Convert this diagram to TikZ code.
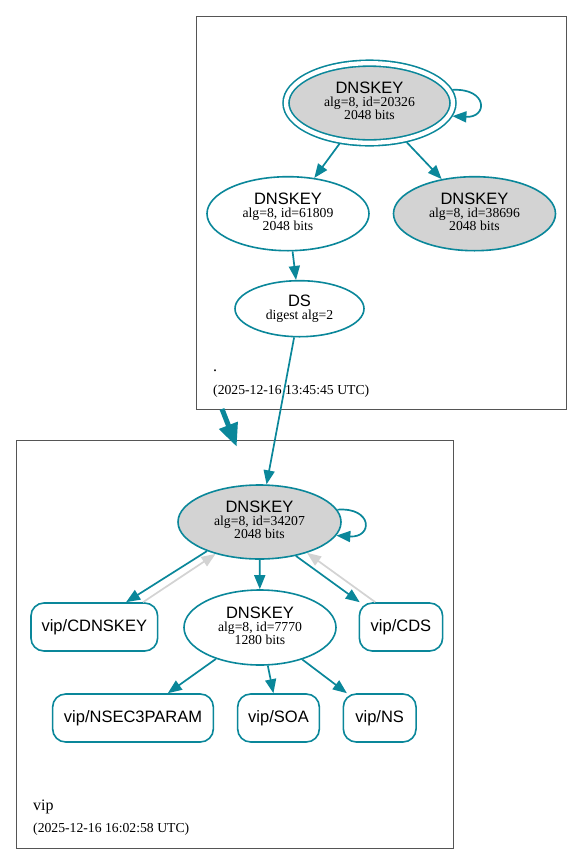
\documentclass[tikz,border=0pt]{standalone}
\usepackage{fontspec}
\setmainfont{Liberation Serif}
\setsansfont{Liberation Sans}
\usetikzlibrary{arrows.meta,shapes.geometric}
\definecolor{dnsteal}{HTML}{0A879A}
\definecolor{keygray}{HTML}{D3D3D3}
\definecolor{zoneline}{HTML}{555555}
\newcommand{\keyname}[1]{{\sffamily\fontsize{16.5}{13}\selectfont #1}}
\newcommand{\dpst}{\rule[-4pt]{0pt}{4pt}}
\begin{document}
\begin{tikzpicture}[x=1pt,y=-1pt,
  keynode/.style={ellipse, draw=dnsteal, line width=1.6pt, inner sep=0pt, align=center,
    font=\fontsize{13.7}{13}\selectfont},
  rrnode/.style={rectangle, rounded corners=13pt, draw=dnsteal, line width=1.6pt, inner sep=0pt,
    minimum height=48pt, font=\sffamily\fontsize{16.5}{18}\selectfont},
  zonebox/.style={draw=zoneline, line width=1pt},
  zonetext/.style={anchor=base west, inner sep=0pt, font=\fontsize{13.7}{14}\selectfont},
  edgeT/.style={draw=dnsteal, line width=1.7pt, -{Triangle[length=14pt,width=11pt]}},
  edgeG/.style={draw=keygray, line width=1.7pt, -{Triangle[length=14pt,width=11pt]}},
]
\useasboundingbox (0,0) rectangle (583,865);
\fill[white] (0,0) rectangle (583,865);

% zone boxes
\draw[zonebox] (196,16) rectangle (566,409);
\draw[zonebox] (16,440) rectangle (453,848);

% root zone
\node[keynode, fill=keygray, double=white, double distance=4.3pt, outer sep=3.5pt,
      minimum width=167pt, minimum height=79.6pt] (k1) at (369.5,103)
  {\keyname{DNSKEY}\\alg=8, id=20326\\2048 bits\dpst};
\node[keynode, minimum width=162pt, minimum height=74pt] (k2) at (288,213.7)
  {\keyname{DNSKEY}\\alg=8, id=61809\\2048 bits\dpst};
\node[keynode, fill=keygray, minimum width=162pt, minimum height=74pt] (k3) at (474.5,213.7)
  {\keyname{DNSKEY}\\alg=8, id=38696\\2048 bits\dpst};
\node[keynode, minimum width=129pt, minimum height=56pt] (ds) at (299.5,308.7)
  {\keyname{DS}\\digest alg=2};
\node[zonetext, font=\fontsize{16}{16}\selectfont] (rootname) at (213,371) {.};
\node[zonetext] (roottime) at (213,394) {(2025-12-16 13:45:45 UTC)};

% vip zone
\node[keynode, fill=keygray, minimum width=163pt, minimum height=74pt] (z1) at (259.5,522)
  {\keyname{DNSKEY}\\alg=8, id=34207\\2048 bits\dpst};
\node[keynode, minimum width=152pt, minimum height=75pt] (z2) at (260,627.5)
  {\keyname{DNSKEY}\\alg=8, id=7770\\1280 bits\dpst};
\node[rrnode, minimum width=126.7pt] (cdnskey) at (94.3,627) {vip/CDNSKEY};
\node[rrnode, minimum width=83.3pt] (cds) at (401,627) {vip/CDS};
\node[rrnode, minimum width=160.7pt] (nsec3) at (133,718) {vip/NSEC3PARAM};
\node[rrnode, minimum width=81.7pt] (soa) at (278.5,718) {vip/SOA};
\node[rrnode, minimum width=72.7pt] (ns) at (379.7,718) {vip/NS};
\node[zonetext, font=\fontsize{16}{16}\selectfont] (vipname) at (33,810) {vip};
\node[zonetext] (viptime) at (33,832) {(2025-12-16 16:02:58 UTC)};

% root edges
\draw[edgeT] (k1.9) .. controls (488,88) and (488,118) .. (k1.-9);
\draw[edgeT] (k1) -- (k2);
\draw[edgeT] (k1) -- (k3);
\draw[edgeT] (k2) -- (ds);
\draw[edgeT] (ds) -- (z1);

% zone delegation arrow
\coordinate (dstart) at (222,409);
\coordinate (dend) at (236.7,446.7);
\draw[draw=dnsteal, line width=5pt, -{Triangle[length=23pt,width=19pt]}] (dstart) -- (dend);

% vip edges
\draw[edgeT] (z1.9) .. controls (373,507) and (373,538) .. (z1.-10);
\draw[edgeT] (z1.209) -- (cdnskey.38);
\draw[edgeG] (cdnskey.27.5) -- (z1.216.8);
\draw[edgeT] (z1) -- (z2);
\draw[edgeT] (z1.317.6) -- (cds.149.3);
\draw[edgeG] (cds.136.5) -- (z1.327.8);
\draw[edgeT] (z2) -- (nsec3);
\draw[edgeT] (z2) -- (soa);
\draw[edgeT] (z2) -- (ns);
\end{tikzpicture}
\end{document}
